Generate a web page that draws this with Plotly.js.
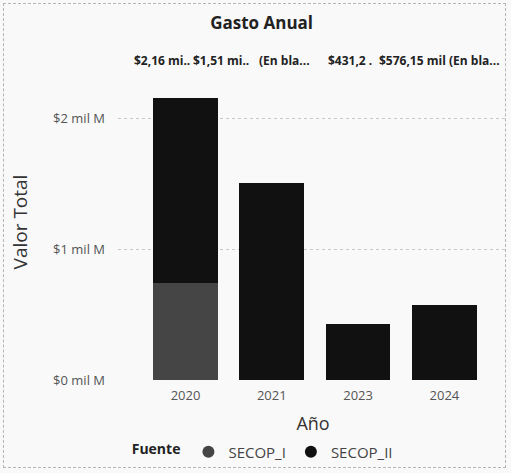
<!DOCTYPE html>
<html>
<head>
<meta charset="utf-8">
<script src="https://cdn.plot.ly/plotly-3.0.1.min.js"></script>
<style>
  html, body { margin: 0; padding: 0; background: #f9f9f9; }
  #chart { width: 511px; height: 473px; }
  #frame { position: absolute; left: 3px; top: 3px; width: 503px; height: 465px;
           border: 1px dashed #b5b5b5; pointer-events: none; box-sizing: border-box; }
</style>
</head>
<body>
<div id="chart"></div>
<div id="frame"></div>
<script>
// Data (values in "mil M" = miles de millones)
const years = ['2020', '2021', '2023', '2024'];
const secopI = [0.74, null, null, null];
const secopII = [1.42, 1.51, 0.4312, 0.57615];
const seriesNames = ['SECOP_I', 'SECOP_II'];
const tickVals = [0, 1, 2];
const tickLabels = ['$0 mil M', '$1 mil M', '$2 mil M'];
const topLabels = ['$2,16 mi..', '$1,51 mi..', '(En bla...', '$431,2 .', '$576,15 mil', '(En bla...'];

const colI = '#454545';
const colII = '#111111';
const font = 'Open Sans, DejaVu Sans, sans-serif';

const traces = [
  { type: 'bar', x: years, y: secopI, name: seriesNames[0], marker: { color: colI }, showlegend: false },
  { type: 'bar', x: years, y: secopII, name: seriesNames[1], marker: { color: colII }, showlegend: false },
  { type: 'scatter', mode: 'markers', x: [null], y: [null], name: seriesNames[0], marker: { color: colI, size: 12, symbol: 'circle' }, showlegend: true },
  { type: 'scatter', mode: 'markers', x: [null], y: [null], name: seriesNames[1], marker: { color: colII, size: 12, symbol: 'circle' }, showlegend: true }
];

// label centres in pixels -> paper coords of plot (left 118, width 390)
const labelPx = [162, 221, 284, 350, 412, 474];
const annotations = topLabels.map((t, i) => ({
  text: '<b>' + t + '</b>', xref: 'paper', yref: 'paper',
  x: (labelPx[i] - 118) / 390, y: (380 - 61) / 316, xanchor: 'center', yanchor: 'middle',
  showarrow: false, font: { family: font, size: 12, color: '#222' }
}));

const layout = {
  width: 511, height: 473,
  margin: { l: 118, r: 3, t: 64, b: 93 },
  paper_bgcolor: '#f9f9f9', plot_bgcolor: '#f9f9f9',
  barmode: 'stack', bargap: 0.25,
  font: { family: font },
  title: { text: '<b>Gasto Anual</b>', x: 0.512, xref: 'container', y: 0.951, yanchor: 'middle',
           font: { family: font, size: 17, color: '#222' } },
  xaxis: {
    type: 'category', range: [-0.782, 3.737],
    showgrid: false, zeroline: false, showline: false, ticks: '', ticklabelstandoff: 6,
    tickfont: { family: font, size: 13, color: '#555' },
    title: { text: 'Año', font: { family: font, size: 18, color: '#333' }, standoff: 14 }
  },
  yaxis: {
    range: [0, 2.42], tickvals: tickVals, ticktext: tickLabels,
    showgrid: true, gridcolor: '#c8c8c8', griddash: 'dot', gridwidth: 1,
    zeroline: false, showline: false, ticks: '', ticklabelstandoff: 12,
    tickfont: { family: font, size: 13, color: '#555' },
    title: { text: 'Valor Total', font: { family: font, size: 19, color: '#333' }, standoff: 20 }
  },
  legend: {
    orientation: 'h', traceorder: 'normal', x: 0.03, xanchor: 'left', y: (380 - 452) / 316, yanchor: 'middle',
    title: { text: '<b>Fuente</b>', side: 'left', font: { family: font, size: 14, color: '#222' } },
    font: { family: font, size: 15, color: '#444' }, itemwidth: 30,
    bgcolor: 'rgba(0,0,0,0)'
  },
  annotations: annotations
};

Plotly.newPlot('chart', traces, layout, { displayModeBar: false, staticPlot: true });
</script>
</body>
</html>
